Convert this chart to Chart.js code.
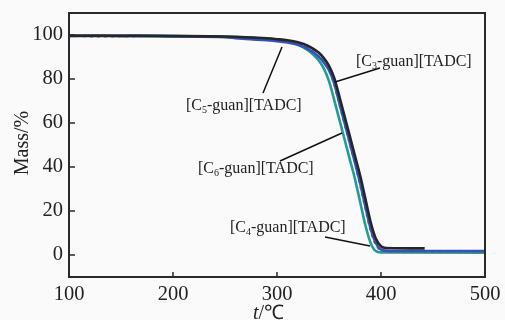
<!DOCTYPE html>
<html>
<head>
<meta charset="utf-8">
<script src="https://cdn.jsdelivr.net/npm/chart.js@4.4.0/dist/chart.umd.min.js"></script>
<style>
  html, body { margin: 0; padding: 0; background: #fafafa; }
</style>
</head>
<body>
<canvas id="tga" width="505" height="320"></canvas>
<script>
// tick labels
const xTicks = [100, 200, 300, 400, 500];
const yTicks = [0, 20, 40, 60, 80, 100];

// [C3-guan][TADC]  (black)
const tempC3 = [100, 150, 200, 250, 270, 290, 300, 310, 320, 330, 340, 345, 350, 355, 360, 365, 370, 375, 380, 385, 390, 395, 400, 405, 442];
const massC3 = [99.6, 99.6, 99.5, 99.3, 99.0, 98.5, 98.1, 97.6, 96.7, 95.0, 92.0, 89.5, 86.0, 80.5, 72.0, 63.0, 54.0, 45.0, 36.0, 25.5, 15.0, 7.5, 4.0, 3.2, 3.0];

// [C5-guan][TADC]  (blue)
const tempC5 = [100, 130, 150, 170, 200, 250, 260, 270, 290, 300, 310, 320, 330, 340, 345, 350, 355, 360, 365, 370, 375, 380, 385, 390, 395, 400, 410, 500];
const massC5 = [99.6, 99.7, 99.6, 99.8, 99.5, 99.0, 98.6, 98.2, 97.6, 97.2, 96.6, 95.6, 93.6, 90.2, 87.5, 84.0, 78.0, 69.0, 60.0, 51.0, 42.0, 32.5, 22.0, 12.0, 5.5, 2.5, 1.8, 1.8];

// [C4-guan][TADC]  (red)
const tempC4 = [100, 130, 150, 200, 250, 300, 320, 330, 340, 345, 350, 355, 360, 365, 370, 375, 380, 385, 390, 395, 400, 410, 500];
const massC4 = [99.6, 99.2, 99.3, 99.5, 99.2, 98.0, 96.3, 94.0, 90.5, 87.8, 83.8, 77.0, 68.0, 59.0, 50.0, 41.0, 31.0, 20.5, 10.5, 4.5, 1.8, 1.4, 1.4];

// [C6-guan][TADC]  (teal)
const tempC6 = [100, 200, 250, 270, 290, 300, 310, 320, 330, 335, 340, 345, 350, 355, 360, 365, 370, 375, 380, 385, 390, 395, 400, 500];
const massC6 = [99.7, 99.5, 99.2, 98.9, 98.2, 97.9, 97.1, 95.6, 93.0, 91.0, 88.5, 84.8, 79.0, 70.5, 61.5, 52.5, 43.5, 34.5, 24.0, 13.5, 5.5, 1.8, 1.2, 1.0];

const serif = "'Liberation Serif', 'Times New Roman', serif";

function pts(t, m) {
  return t.map((v, i) => ({ x: v, y: m[i] }));
}

function drawLabel(ctx, x, y, sub) {
  ctx.font = '16px ' + serif;
  ctx.fillText('[C', x, y);
  x += ctx.measureText('[C').width;
  ctx.font = '10px ' + serif;
  ctx.fillText(sub, x, y + 3);
  x += ctx.measureText(sub).width;
  ctx.font = '16px ' + serif;
  ctx.fillText('-guan][TADC]', x, y);
}

const decor = {
  id: 'decor',
  afterDraw(chart) {
    const ctx = chart.ctx;
    const a = chart.chartArea;
    const xs = chart.scales.x, ys = chart.scales.y;
    ctx.save();
    ctx.strokeStyle = '#2a2a2a';
    ctx.lineWidth = 2;
    ctx.strokeRect(a.left, a.top, a.right - a.left, a.bottom - a.top);
    // inward ticks
    ctx.lineWidth = 1.5;
    ctx.beginPath();
    xTicks.forEach(v => {
      const px = xs.getPixelForValue(v);
      ctx.moveTo(px, a.bottom);
      ctx.lineTo(px, a.bottom - 5);
    });
    yTicks.forEach(v => {
      const py = ys.getPixelForValue(v);
      ctx.moveTo(a.left, py);
      ctx.lineTo(a.left + 6, py);
    });
    ctx.stroke();

    // leader lines
    ctx.strokeStyle = '#111';
    ctx.lineWidth = 1.5;
    ctx.beginPath();
    ctx.moveTo(335, 82); ctx.lineTo(380, 68);
    ctx.moveTo(282, 47); ctx.lineTo(263, 93);
    ctx.moveTo(342, 133); ctx.lineTo(280, 161);
    ctx.moveTo(325, 237); ctx.lineTo(370, 246);
    ctx.stroke();

    ctx.fillStyle = '#222';
    ctx.textBaseline = 'alphabetic';
    ctx.textAlign = 'left';
    drawLabel(ctx, 356, 66, '3');
    drawLabel(ctx, 186, 110, '5');
    drawLabel(ctx, 198, 173, '6');
    drawLabel(ctx, 230, 232, '4');

    // axis titles
    ctx.font = '20px ' + serif;
    ctx.save();
    ctx.translate(23, 143);
    ctx.rotate(-Math.PI / 2);
    ctx.textAlign = 'center';
    ctx.textBaseline = 'middle';
    ctx.fillText('Mass/%', 0, 0);
    ctx.restore();

    ctx.textBaseline = 'top';
    ctx.font = 'italic 20px ' + serif;
    ctx.fillText('t', 253, 304);
    const tw = ctx.measureText('t').width;
    ctx.font = '20px ' + serif;
    ctx.fillText('/\u2103', 253 + tw, 304);
    ctx.restore();
  }
};

new Chart(document.getElementById('tga'), {
  type: 'line',
  data: {
    datasets: [
      { label: '[C3-guan][TADC]', data: pts(tempC3, massC3), borderColor: '#262626', borderWidth: 2.6 },
      { label: '[C5-guan][TADC]', data: pts(tempC5, massC5), borderColor: '#3452b8', borderWidth: 2.6 },
      { label: '[C4-guan][TADC]', data: pts(tempC4, massC4), borderColor: '#e03a3a', borderWidth: 1.6, borderDash: [3, 4] },
      { label: '[C6-guan][TADC]', data: pts(tempC6, massC6), borderColor: '#1f9e98', borderWidth: 2.6 }
    ]
  },
  options: {
    responsive: false,
    animation: false,
    layout: { padding: { left: 0, right: 20, top: 13, bottom: 0 } },
    elements: {
      point: { radius: 0 },
      line: { cubicInterpolationMode: 'monotone' }
    },
    plugins: { legend: { display: false }, tooltip: { enabled: false } },
    scales: {
      x: {
        type: 'linear',
        min: 100,
        max: 500,
        afterBuildTicks(s) { s.ticks = xTicks.map(v => ({ value: v })); },
        afterFit(s) { s.height = 43; s.paddingLeft = 0; s.paddingRight = 0; },
        grid: { display: false, drawTicks: false },
        border: { display: false },
        ticks: { color: '#222', padding: 5, maxRotation: 0, font: { family: serif, size: 20.5 } }
      },
      y: {
        min: -10,
        max: 110,
        afterBuildTicks(s) { s.ticks = yTicks.map(v => ({ value: v })); },
        afterFit(s) { s.width = 69; s.paddingTop = 0; s.paddingBottom = 0; },
        grid: { display: false, drawTicks: false },
        border: { display: false },
        ticks: { color: '#222', padding: 6, font: { family: serif, size: 20.5 } }
      }
    }
  },
  plugins: [decor]
});
</script>
</body>
</html>
